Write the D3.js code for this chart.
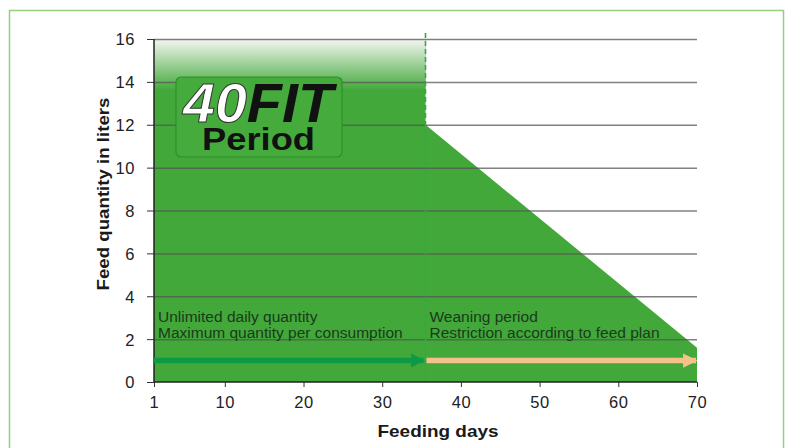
<!DOCTYPE html>
<html>
<head>
<meta charset="utf-8">
<script src="https://cdn.jsdelivr.net/npm/d3@7"></script>
<style>
  body { margin: 0; background: #fff; }
  svg { display: block; font-family: "Liberation Sans", Arial, sans-serif; }
</style>
</head>
<body>
<svg width="785" height="448"></svg>
<script>
// data
var feedDays = [1, 35.5, 35.5, 70];
var feedLiters = [16, 16, 12, 1.6];
var xTicks = [1, 10, 20, 30, 40, 50, 60, 70];
var yTicks = [0, 2, 4, 6, 8, 10, 12, 14, 16];
var weaningDay = 35.5;
var arrowLevel = 1;
var phaseNotes = [
  ["Unlimited daily quantity", "Maximum quantity per consumption"],
  ["Weaning period", "Restriction according to feed plan"]
];

var green = "#41a839";

var svg = d3.select("svg");
var x = d3.scaleLinear().domain([1, 70]).range([154, 697]);
var y = d3.scaleLinear().domain([0, 16]).range([382, 39]);

var defs = svg.append("defs");
var grad = defs.append("linearGradient").attr("id", "fade")
  .attr("gradientUnits", "userSpaceOnUse")
  .attr("x1", 0).attr("x2", 0)
  .attr("y1", y(16)).attr("y2", y(13.6));
grad.append("stop").attr("offset", 0).attr("stop-color", "#f4f7f2");
grad.append("stop").attr("offset", 1).attr("stop-color", green);

["green", "peach"].forEach(function(k) {
  defs.append("marker").attr("id", "head-" + k)
    .attr("viewBox", "0 0 10 10").attr("refX", 9).attr("refY", 5)
    .attr("markerWidth", 2.6).attr("markerHeight", 2.6)
    .attr("markerUnits", "strokeWidth")
    .attr("orient", "auto")
    .append("path").attr("d", "M0,0L10,5L0,10Z")
    .attr("fill", k == "green" ? "#0d9a46" : "#f6c28c");
});

// outer frame
svg.append("rect").attr("x", 9.5).attr("y", 10.5).attr("width", 774).attr("height", 460)
  .attr("fill", "none").attr("stroke", "#93d07f").attr("stroke-width", 1.5);

// area
var pts = feedDays.map(function(d, i) { return [d, feedLiters[i]]; });
var area = d3.area().x(function(d) { return x(d[0]); }).y0(y(0)).y1(function(d) { return y(d[1]); });
svg.append("path").datum(pts).attr("d", area).attr("fill", green);
// faded top of the first period
svg.append("rect").attr("x", x(1)).attr("y", y(16)).attr("width", x(weaningDay) - x(1))
  .attr("height", y(13.6) - y(16)).attr("fill", "url(#fade)");

// grid lines
svg.append("g").selectAll("line").data(yTicks.slice(1)).enter().append("line")
  .attr("x1", x(1)).attr("x2", x(70))
  .attr("y1", function(d) { return y(d) + 0.5; }).attr("y2", function(d) { return y(d) + 0.5; })
  .attr("stroke", "#555").attr("stroke-opacity", 0.75).attr("stroke-width", 1.5);

// weaning divider
svg.append("line").attr("x1", x(weaningDay)).attr("x2", x(weaningDay))
  .attr("y1", 33).attr("y2", y(0))
  .attr("stroke", "#2faa48").attr("stroke-width", 1.6).attr("stroke-dasharray", "5,3");

// axes
var yAxis = svg.append("g").attr("transform", "translate(" + x(1) + ",0)")
  .call(d3.axisLeft(y).tickValues(yTicks).tickSize(7).tickPadding(12));
var xAxis = svg.append("g").attr("transform", "translate(0," + y(0) + ")")
  .call(d3.axisBottom(x).tickValues(xTicks).tickSize(5).tickPadding(9));
[yAxis, xAxis].forEach(function(a) {
  a.select(".domain").attr("stroke", "#222").attr("stroke-width", 1.5);
  a.selectAll(".tick line").attr("stroke", "#333");
  a.selectAll(".tick text").attr("font-size", 16.5).attr("fill", "#222")
    .attr("font-family", "'Liberation Sans', Arial, sans-serif").attr("letter-spacing", 0.6);
});
yAxis.selectAll(".tick text").attr("dy", "0.36em");
xAxis.select(".domain").attr("d", "M" + x(1) + ",0H" + x(70));
yAxis.select(".domain").attr("d", "M0," + y(0) + "V" + y(16));

// axis titles
svg.append("text").attr("x", 438).attr("y", 437).attr("text-anchor", "middle")
  .attr("font-size", 17).attr("font-weight", "bold").attr("fill", "#1a1a1a")
  .attr("textLength", 121).attr("lengthAdjust", "spacingAndGlyphs").text("Feeding days");
svg.append("text").attr("transform", "translate(109,194) rotate(-90)").attr("text-anchor", "middle")
  .attr("font-size", 16.5).attr("font-weight", "bold").attr("fill", "#1a1a1a")
  .attr("textLength", 193).attr("lengthAdjust", "spacingAndGlyphs").text("Feed quantity in liters");

// phase notes
[1, weaningDay].forEach(function(d, i) {
  var t = svg.append("text").attr("x", x(d) + 4).attr("y", 322).attr("font-size", 15.5).attr("fill", "#1c3a1c");
  phaseNotes[i].forEach(function(line, j) {
    t.append("tspan").attr("x", x(d) + 4).attr("dy", j ? 15.5 : 0).text(line);
  });
});

// arrows
svg.append("line").attr("x1", x(1)).attr("x2", x(weaningDay) - 2)
  .attr("y1", y(arrowLevel)).attr("y2", y(arrowLevel))
  .attr("stroke", "#0d9a46").attr("stroke-width", 5.5).attr("marker-end", "url(#head-green)");
svg.append("line").attr("x1", x(weaningDay) + 1).attr("x2", x(70) - 1)
  .attr("y1", y(arrowLevel)).attr("y2", y(arrowLevel))
  .attr("stroke", "#f6c28c").attr("stroke-width", 5.5).attr("marker-end", "url(#head-peach)");

// 40FIT Period badge
var badge = svg.append("g");
badge.append("rect").attr("x", 176).attr("y", 77).attr("width", 166).attr("height", 80).attr("rx", 5)
  .attr("fill", "#45ab3d").attr("stroke", "#2f8f2c").attr("stroke-width", 1.2);
var fit = badge.append("text").attr("x", 183).attr("y", 122)
  .attr("font-size", 56).attr("font-weight", "bold").attr("font-style", "italic")
  .attr("textLength", 150).attr("lengthAdjust", "spacingAndGlyphs");
fit.append("tspan").attr("fill", "#fff").attr("stroke", "#333").attr("stroke-width", 1).text("40");
fit.append("tspan").attr("fill", "#111").text("FIT");
badge.append("text").attr("x", 202).attr("y", 150)
  .attr("font-size", 31).attr("font-weight", "bold").attr("fill", "#111")
  .attr("textLength", 113).attr("lengthAdjust", "spacingAndGlyphs").text("Period");
</script>
</body>
</html>
